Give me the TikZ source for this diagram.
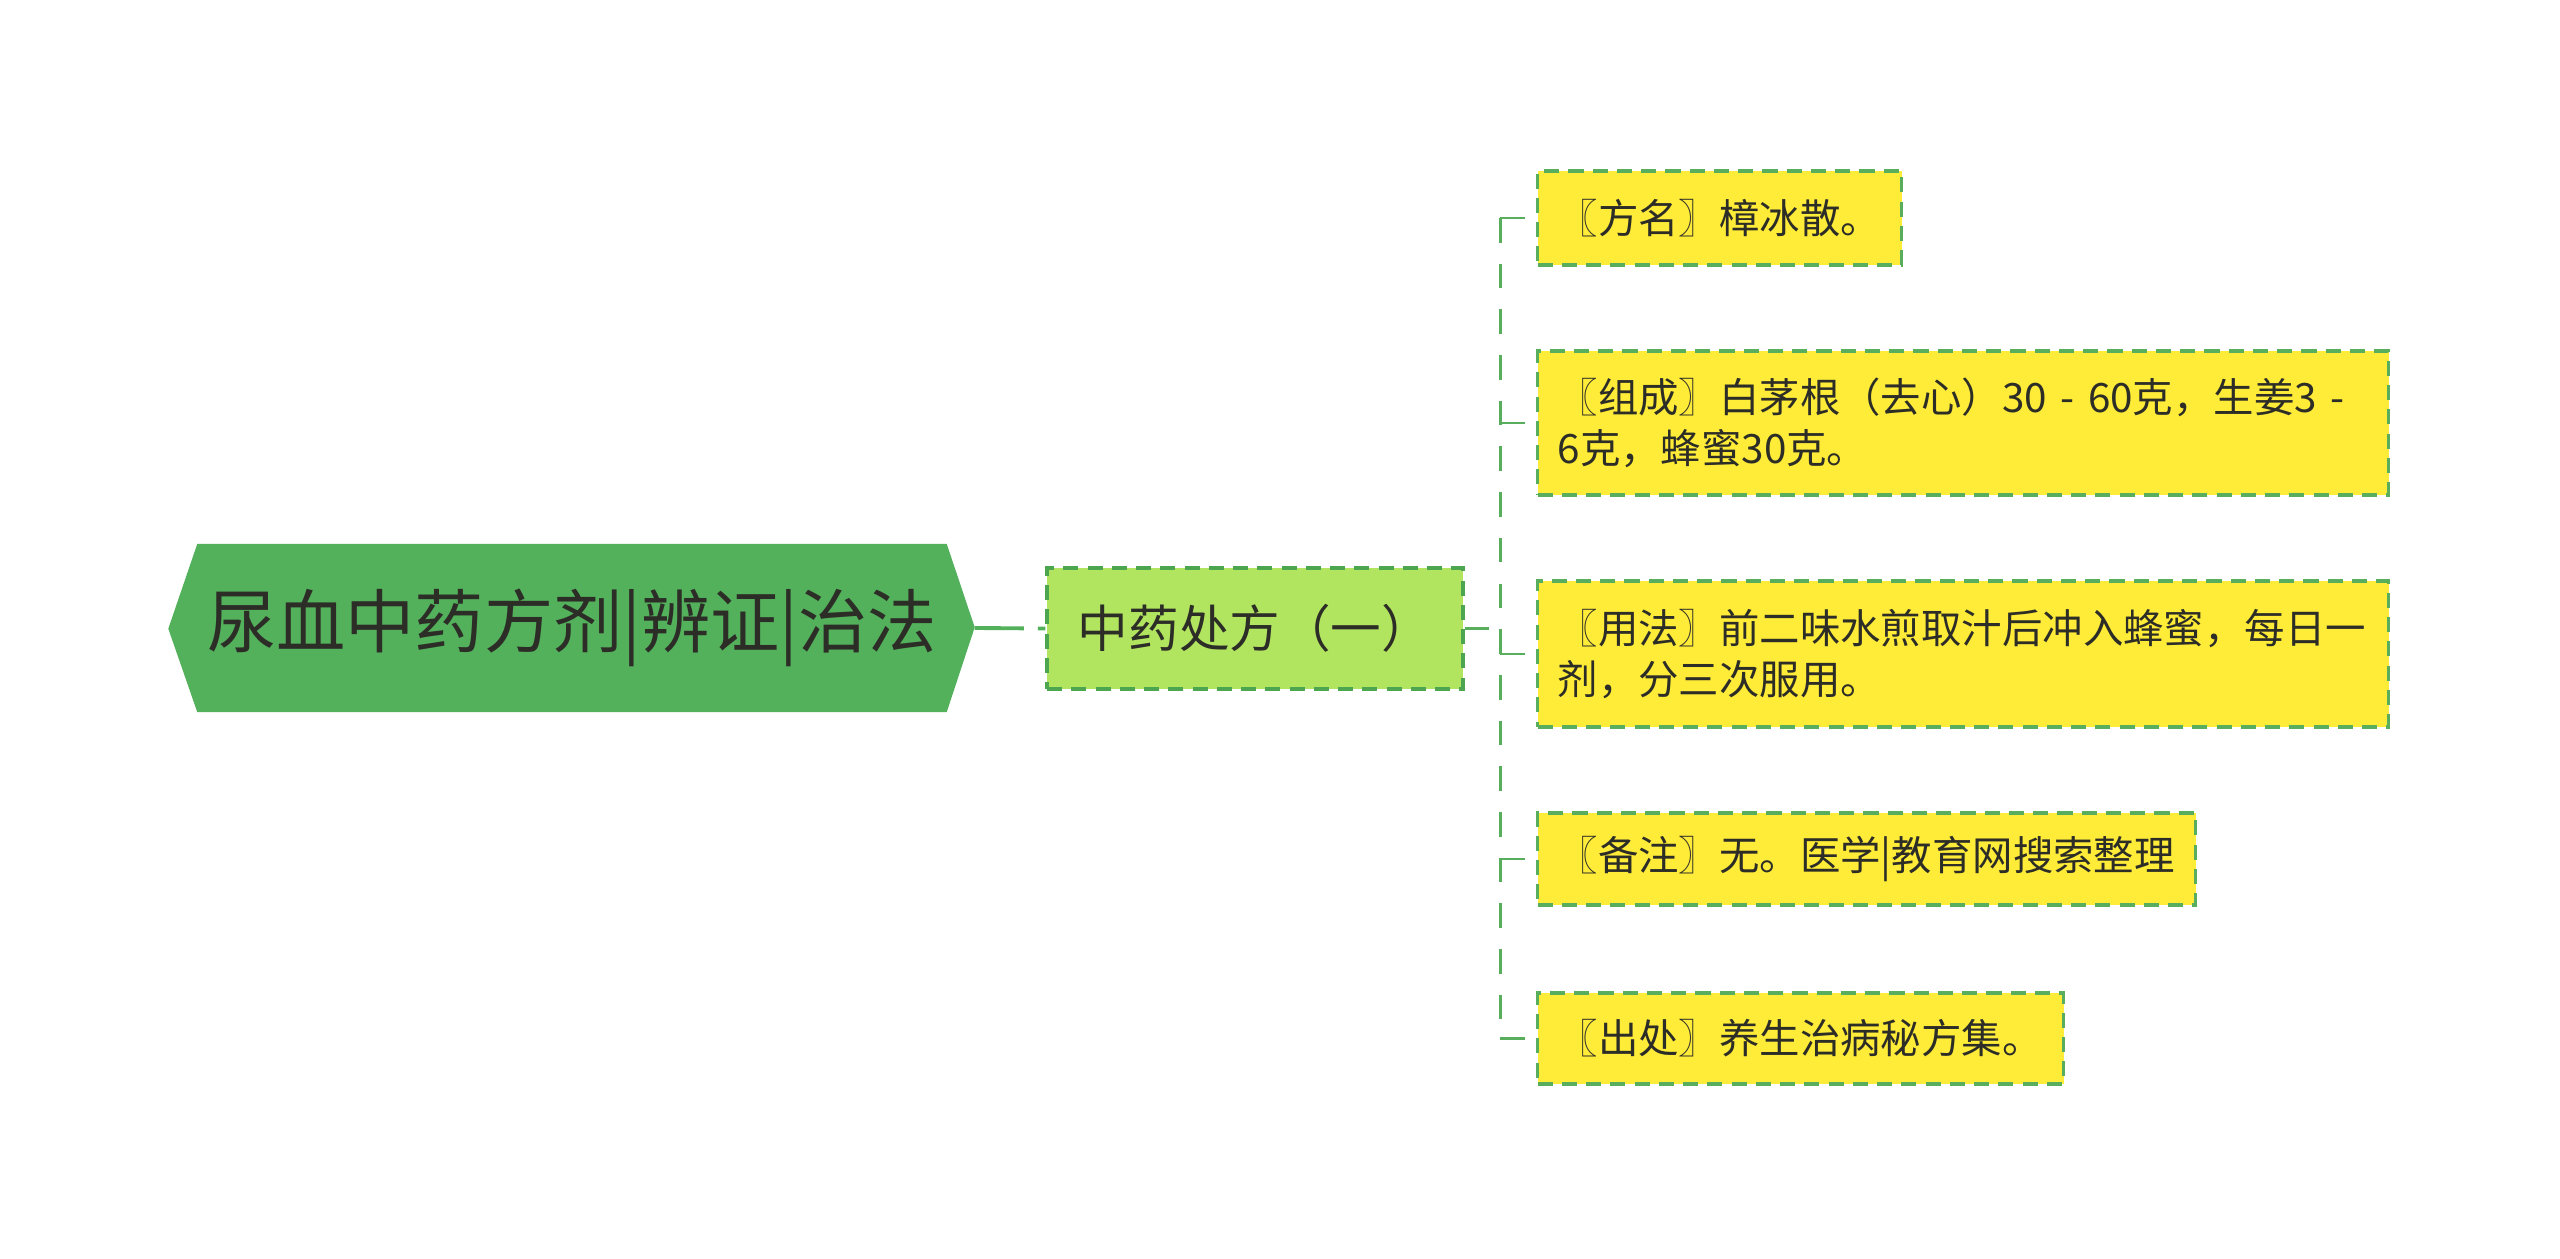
\documentclass[tikz,border=0pt]{standalone}
\usepackage{fontspec}
\newfontfamily\cjk{Noto Sans CJK SC}
\usetikzlibrary{backgrounds}

\definecolor{rootgreen}{RGB}{83,176,91}
\definecolor{subfill}{RGB}{178,229,95}
\definecolor{subedge}{RGB}{76,166,80}
\definecolor{leafyellow}{RGB}{255,236,56}
\definecolor{leafedge}{RGB}{88,174,92}
\definecolor{inkgray}{RGB}{45,45,40}

\begin{document}
\begin{tikzpicture}[
  every node/.style={font=\cjk, text=inkgray},
  topic/.style={inner sep=0pt, minimum width=7.48cm, minimum height=1.67cm,
    font=\cjk\fontsize{19.7}{23}\selectfont},
  subtopic/.style={draw=subedge, fill=subfill, line width=0.9pt,
    dash pattern=on 4.3pt off 2.6pt, minimum width=4.16cm, minimum height=1.21cm,
    inner sep=0pt, font=\cjk\fontsize{14.4}{17}\selectfont},
  leaf/.style={draw=leafedge, fill=leafyellow, line width=0.9pt,
    dash pattern=on 4.3pt off 2.6pt, anchor=west, align=left,
    inner xsep=0.2cm, inner ysep=0pt, font=\cjk\fontsize{11.5}{14.5}\selectfont},
  link/.style={leafedge, line width=0.85pt, dash pattern=on 7pt off 6pt}
]
\useasboundingbox (0,0) rectangle (25.6,-12.59);

% main topic and sub topic
\node[topic] (root) at (5.72,-6.28) {尿血中药方剂|辨证|治法};
\node[subtopic] (sub) at (12.55,-6.285) {中药处方（一）};

\begin{scope}[on background layer]
\fill[rootgreen] (root.north west) -- (root.north east) -- ++(0.28,-0.835)
  -- (root.south east) -- (root.south west) -- ++(-0.29,0.835) -- cycle;
\end{scope}
\coordinate (roottip) at ([xshift=0.28cm]root.east);

% leaves
\node[leaf, text width=3.24cm, minimum height=0.94cm] (fangming) at (15.36,-2.18)
  {〖方名〗樟冰散。};
\node[leaf, text width=8.11cm, minimum height=1.44cm] (zucheng) at (15.36,-4.23)
  {〖组成〗白茅根（去心）30~-~60克，生姜3~-\\6克，蜂蜜30克。};
\node[leaf, text width=8.11cm, minimum height=1.46cm] (yongfa) at (15.36,-6.54)
  {〖用法〗前二味水煎取汁后冲入蜂蜜，每日一\\剂，分三次服用。};
\node[leaf, text width=6.18cm, minimum height=0.92cm] (beizhu) at (15.36,-8.59)
  {〖备注〗无。医学|教育网搜索整理};
\node[leaf, text width=4.86cm, minimum height=0.91cm] (chuchu) at (15.36,-10.385)
  {〖出处〗养生治病秘方集。};

% connectors
\draw[rootgreen, line width=1.1pt, dash pattern=on 14pt off 4pt] (roottip) -- (sub.west); %root-sub

\coordinate (fork) at (15.0,-6.285);
\draw[link] (sub.east) -- (fork); %sub-bus
\draw[link] (fork |- fangming.west) -- (fork |- chuchu.west); %bus
\foreach \leafname in {fangming,zucheng,yongfa,beizhu,chuchu}
  \draw[link] (fork |- \leafname.west) -- (\leafname.west);

\end{tikzpicture}
\end{document}
